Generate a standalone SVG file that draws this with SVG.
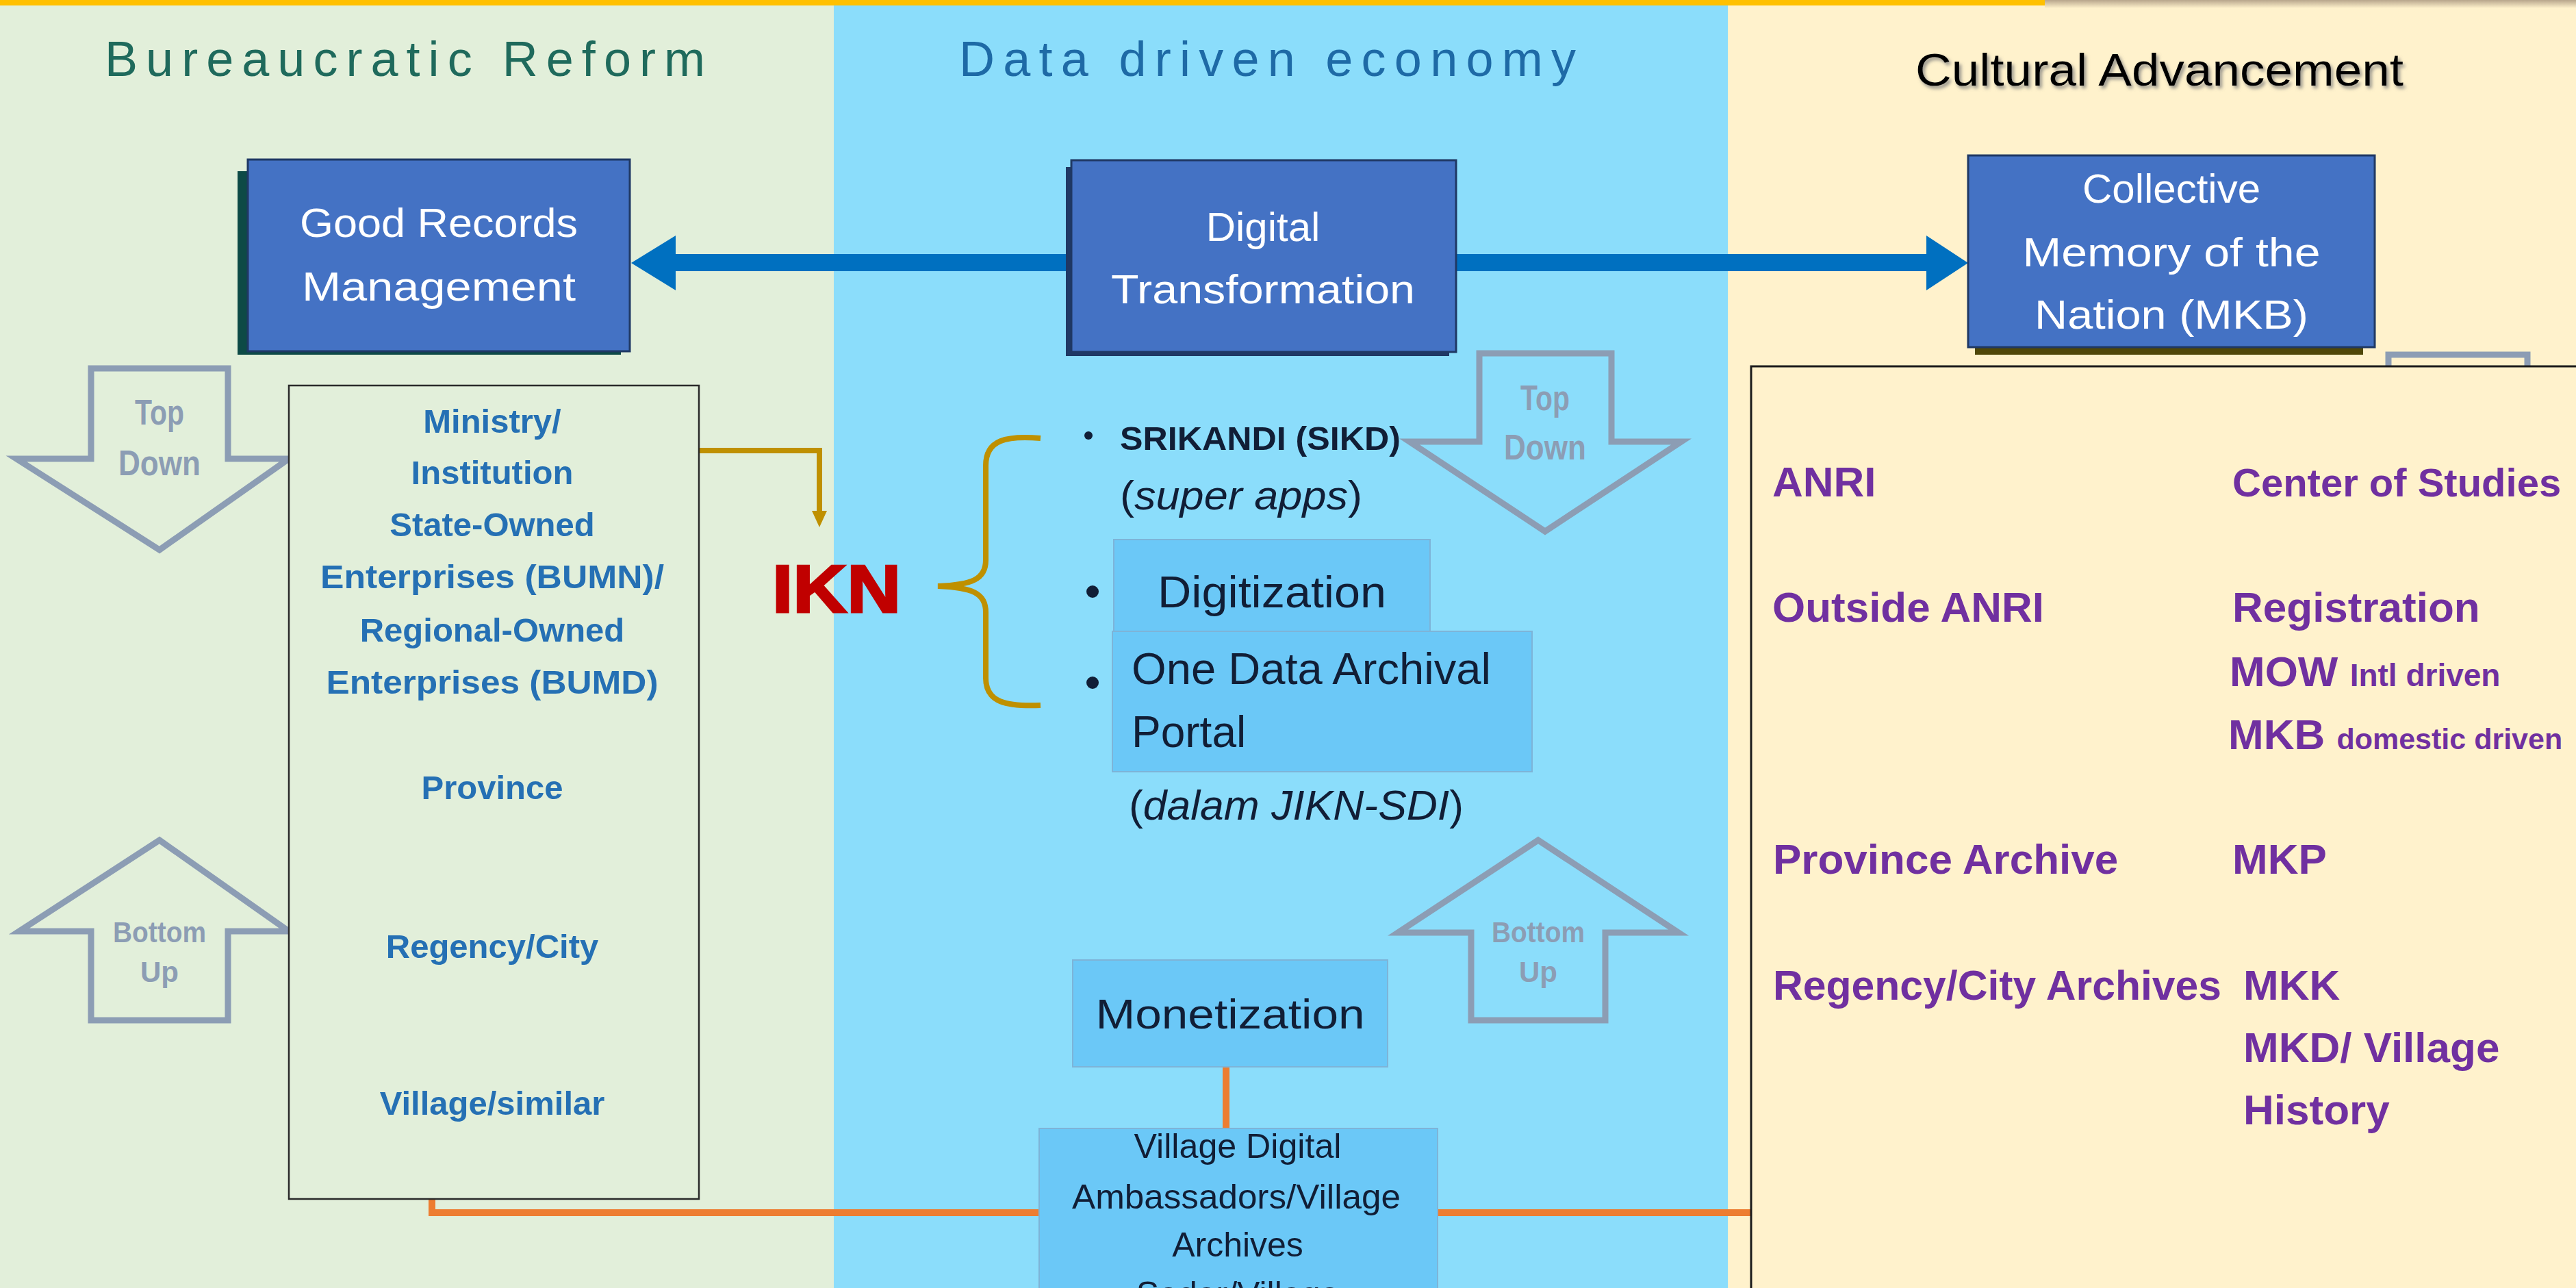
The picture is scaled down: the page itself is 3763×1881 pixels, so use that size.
<svg xmlns="http://www.w3.org/2000/svg" width="3763" height="1881" viewBox="0 0 3763 1881">
<defs>
<style>
.sans{font-family:"Liberation Sans","Noto Sans",Arial,sans-serif}
.title{font-family:"Liberation Sans","Noto Sans",Arial,sans-serif;font-size:72px}
.boxtxt{font-family:"Liberation Sans","Noto Sans",Arial,sans-serif;font-size:60px;fill:#ffffff;text-anchor:middle}
.bigbox{fill:#4472C4;stroke:#1F3864;stroke-width:3}
.lvl{font-family:"Liberation Sans","Noto Sans",Arial,sans-serif;font-size:49px;font-weight:bold;fill:#2570B4;text-anchor:middle}
.pur{font-family:"Liberation Sans","Noto Sans",Arial,sans-serif;font-size:62px;font-weight:bold;fill:#7030A0}
.purs{font-family:"Liberation Sans","Noto Sans",Arial,sans-serif;font-size:46px;font-weight:bold;fill:#7030A0}
.gray{fill:none;stroke:#8C9DB4;stroke-width:9;stroke-linejoin:miter}
.graytxt{font-family:"Liberation Sans","Noto Sans",Arial,sans-serif;font-weight:bold;fill:#8C9DB4;text-anchor:middle}
.lbox{fill:#6BC8F7;stroke:#7DB4D8;stroke-width:2}
.dark{font-family:"Liberation Sans","Noto Sans",Arial,sans-serif;fill:#111E36}
.orange{fill:none;stroke:#ED7D31;stroke-width:10}
.gold{fill:none;stroke:#BF9000;stroke-width:8}
</style>
<linearGradient id="topfade" x1="0" y1="0" x2="0" y2="1">
<stop offset="0" stop-color="#B8A68C"/>
<stop offset="1" stop-color="#FFF2CC"/>
</linearGradient>
<filter id="tshadow" x="-5%" y="-20%" width="110%" height="150%">
<feDropShadow dx="3" dy="4" stdDeviation="2.5" flood-color="#7a7a7a" flood-opacity="0.8"/>
</filter>
</defs>

<!-- backgrounds -->
<g id="panels">
<rect x="0" y="0" width="1218" height="1881" fill="#E2EFDA"/>
<rect x="1218" y="0" width="1306" height="1881" fill="#8BDDFB"/>
<rect x="2524" y="0" width="1239" height="1881" fill="#FFF2CC"/>
<rect x="0" y="0" width="2987" height="8" fill="#FFC000"/>
<rect x="2987" y="0" width="776" height="12" fill="url(#topfade)"/>
</g>

<g id="titles">
<text class="title" x="153" y="111" fill="#1F6A5C" textLength="877" lengthAdjust="spacing">Bureaucratic Reform</text>
<text class="title" x="1401" y="111" fill="#1E6AA6" textLength="901" lengthAdjust="spacing">Data driven economy</text>
<text class="sans" x="2798" y="125" font-size="66" fill="#000000" filter="url(#tshadow)" textLength="713" lengthAdjust="spacingAndGlyphs">Cultural Advancement</text>
</g>

<!-- connectors -->
<g id="connectors">
<polygon fill="#0070C0" points="922,384 987,344 987,371 2814,371 2814,344 2875,384 2814,424 2814,396 987,396 987,424"/>
<path class="gold" d="M1021,658 H1197 V750"/>
<polygon fill="#BF9000" points="1186,746 1208,746 1197,770"/>
<path class="gold" d="M1520,640 C1470,636 1440,642 1440,680 L1440,818 C1440,846 1420,854 1370,856 C1420,858 1440,866 1440,894 L1440,990 C1440,1026 1470,1032 1520,1030"/>
<path class="orange" d="M1791,1558 V1648"/>
<path class="orange" d="M631,1751 V1771 H1518"/>
<path class="orange" d="M2100,1771 H2558"/>
</g>

<!-- big blue nodes -->
<g id="good-records">
<rect x="347" y="250" width="560" height="268" fill="#0D4A46"/>
<rect class="bigbox" x="362" y="233" width="558" height="280"/>
<text class="boxtxt" x="641" y="346" textLength="406" lengthAdjust="spacingAndGlyphs">Good Records</text>
<text class="boxtxt" x="641" y="439" textLength="400" lengthAdjust="spacingAndGlyphs">Management</text>
</g>

<g id="digital-transformation">
<rect x="1557" y="244" width="560" height="276" fill="#1F3864"/>
<rect class="bigbox" x="1565" y="234" width="562" height="280"/>
<text class="boxtxt" x="1845" y="352">Digital</text>
<text class="boxtxt" x="1845" y="443" textLength="444" lengthAdjust="spacingAndGlyphs">Transformation</text>
</g>

<g id="collective-memory">
<rect x="2885" y="245" width="567" height="273" fill="#4F4708"/>
<rect class="bigbox" x="2875" y="227" width="594" height="280"/>
<text class="boxtxt" x="3172" y="296">Collective</text>
<text class="boxtxt" x="3172" y="389" textLength="435" lengthAdjust="spacingAndGlyphs">Memory of the</text>
<text class="boxtxt" x="3172" y="480" textLength="400" lengthAdjust="spacingAndGlyphs">Nation (MKB)</text>
</g>

<!-- left column -->
<g id="top-down-left">
<polygon class="gray" points="133,538 333,538 333,670 422,670 233,803 24,670 133,670"/>
<text class="graytxt" x="233" y="620" font-size="52" textLength="72" lengthAdjust="spacingAndGlyphs">Top</text>
<text class="graytxt" x="233" y="694" font-size="52" textLength="120" lengthAdjust="spacingAndGlyphs">Down</text>
</g>

<g id="bottom-up-left">
<polygon class="gray" points="233,1227 422,1360 333,1360 333,1490 133,1490 133,1360 28,1360"/>
<text class="graytxt" x="233" y="1376" font-size="42" textLength="136" lengthAdjust="spacingAndGlyphs">Bottom</text>
<text class="graytxt" x="233" y="1434" font-size="42">Up</text>
</g>

<g id="levels-left">
<rect x="422" y="563" width="599" height="1188" fill="#E2EFDA" stroke="#2a2a2a" stroke-width="2.5"/>
<text class="lvl" x="719" y="632">Ministry/</text>
<text class="lvl" x="719" y="707">Institution</text>
<text class="lvl" x="719" y="783">State-Owned</text>
<text class="lvl" x="719" y="859" textLength="502" lengthAdjust="spacingAndGlyphs">Enterprises (BUMN)/</text>
<text class="lvl" x="719" y="937">Regional-Owned</text>
<text class="lvl" x="719" y="1013" textLength="485" lengthAdjust="spacingAndGlyphs">Enterprises (BUMD)</text>
<text class="lvl" x="719" y="1167">Province</text>
<text class="lvl" x="719" y="1399">Regency/City</text>
<text class="lvl" x="719" y="1628">Village/similar</text>
</g>

<!-- middle column -->
<g id="ikn">
<text class="sans" x="1128" y="894" font-size="98" font-weight="bold" fill="#C00000" stroke="#C00000" stroke-width="3" textLength="188" lengthAdjust="spacingAndGlyphs">IKN</text>
</g>

<g id="top-down-mid">
<polygon class="gray" points="2161,516 2354,516 2354,645 2456,645 2257,776 2059,645 2161,645"/>
<text class="graytxt" x="2257" y="599" font-size="52" textLength="72" lengthAdjust="spacingAndGlyphs">Top</text>
<text class="graytxt" x="2257" y="671" font-size="52" textLength="120" lengthAdjust="spacingAndGlyphs">Down</text>
</g>

<g id="srikandi">
<circle cx="1590" cy="636" r="6" fill="#111E36"/>
<text class="dark" x="1636" y="657" font-size="49" font-weight="bold" fill="#17294A" textLength="410" lengthAdjust="spacingAndGlyphs">SRIKANDI (SIKD)</text>
<text class="dark" x="1636" y="744" font-size="60" textLength="354" lengthAdjust="spacingAndGlyphs">(<tspan font-style="italic">super apps</tspan>)</text>
</g>

<g id="digitization">
<rect class="lbox" x="1627" y="788" width="462" height="134"/>
<circle cx="1596" cy="864" r="9" fill="#111E36"/>
<text class="dark" x="1691" y="887" font-size="64" textLength="334" lengthAdjust="spacingAndGlyphs">Digitization</text>
</g>

<g id="one-data">
<rect class="lbox" x="1625" y="922" width="613" height="205"/>
<circle cx="1596" cy="997" r="9" fill="#111E36"/>
<text class="dark" x="1653" y="999" font-size="64" textLength="525" lengthAdjust="spacingAndGlyphs">One Data Archival</text>
<text class="dark" x="1653" y="1091" font-size="64">Portal</text>
<text class="dark" x="1649" y="1197" font-size="62" textLength="489" lengthAdjust="spacingAndGlyphs">(<tspan font-style="italic">dalam JIKN-SDI</tspan>)</text>
</g>

<g id="bottom-up-mid">
<polygon class="gray" points="2247,1227 2452,1362 2345,1362 2345,1490 2149,1490 2149,1362 2042,1362"/>
<text class="graytxt" x="2247" y="1376" font-size="42" textLength="136" lengthAdjust="spacingAndGlyphs">Bottom</text>
<text class="graytxt" x="2247" y="1434" font-size="42">Up</text>
</g>

<g id="monetization">
<rect class="lbox" x="1567" y="1402" width="460" height="156"/>
<text class="dark" x="1797" y="1502" font-size="62" text-anchor="middle" textLength="393" lengthAdjust="spacingAndGlyphs">Monetization</text>
</g>

<g id="village-digital">
<rect class="lbox" x="1518" y="1648" width="582" height="260"/>
<text class="dark" x="1808" y="1691" font-size="50" text-anchor="middle" textLength="303" lengthAdjust="spacingAndGlyphs">Village Digital</text>
<text class="dark" x="1806" y="1765" font-size="50" text-anchor="middle" textLength="480" lengthAdjust="spacingAndGlyphs">Ambassadors/Village</text>
<text class="dark" x="1808" y="1835" font-size="50" text-anchor="middle">Archives</text>
<text class="dark" x="1808" y="1907" font-size="50" text-anchor="middle">Sadar/Village</text>
</g>

<!-- right column -->
<g id="top-down-right">
<path class="gray" d="M3489,545 V518 H3692 V545"/>
</g>

<g id="cultural-list">
<rect x="2558" y="535" width="1300" height="1400" fill="#FFF2CC" stroke="#1a1a1a" stroke-width="3"/>
<text class="pur" x="2589" y="725">ANRI</text>
<text class="pur" x="3261" y="725" style="font-size:58px">Center of Studies</text>
<text class="pur" x="2589" y="908" textLength="397" lengthAdjust="spacingAndGlyphs">Outside ANRI</text>
<text class="pur" x="3261" y="908">Registration</text>
<text class="pur" x="3257" y="1002">MOW <tspan class="purs">Intl driven</tspan></text>
<text class="pur" x="3255" y="1094">MKB <tspan class="purs" style="font-size:43px">domestic driven</tspan></text>
<text class="pur" x="2590" y="1276">Province Archive</text>
<text class="pur" x="3261" y="1276">MKP</text>
<text class="pur" x="2590" y="1460" textLength="655" lengthAdjust="spacingAndGlyphs">Regency/City Archives</text>
<text class="pur" x="3277" y="1460">MKK</text>
<text class="pur" x="3277" y="1551">MKD/ Village</text>
<text class="pur" x="3277" y="1642">History</text>
</g>
</svg>
